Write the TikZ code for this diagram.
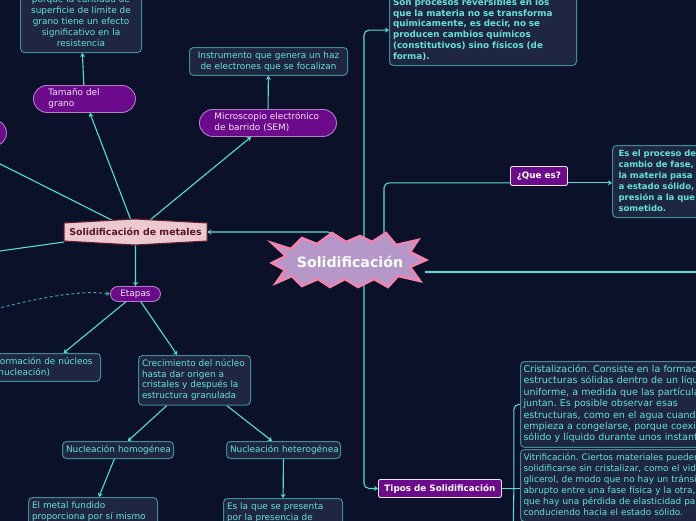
\documentclass[tikz,border=0pt]{standalone}
\usepackage{fontspec}
\setmainfont{DejaVu Sans}
\usetikzlibrary{arrows.meta,calc}
\frenchspacing
\pgfdeclarelayer{back}
\pgfdeclarelayer{lines}
\pgfsetlayers{back,lines,main}
\definecolor{cBg}{HTML}{0B1129}
\definecolor{cBoxFill}{HTML}{1E2641}
\definecolor{cBoxDraw}{HTML}{3D8E90}
\definecolor{cTeal}{HTML}{66E3D5}
\definecolor{cConn}{HTML}{52E0D0}
\definecolor{cDash}{HTML}{3A9FA5}
\definecolor{cPFill}{HTML}{6B0B8C}
\definecolor{cPDraw}{HTML}{B27CC6}
\definecolor{cPText}{HTML}{F2E4F2}
\definecolor{cSmFill}{HTML}{EACACE}
\definecolor{cSmDraw}{HTML}{6E1A2C}
\definecolor{cSmText}{HTML}{5A1428}
\definecolor{cStarFill}{HTML}{B597CA}
\definecolor{cStarDraw}{HTML}{F284AC}
\newcommand{\myL}[1]{\begin{tabular}{@{}l@{}}#1\end{tabular}}
\newcommand{\myC}[1]{\begin{tabular}{@{}c@{}}#1\end{tabular}}
\tikzset{
  tbox/.style={draw=cBoxDraw, fill=cBoxFill, line width=1pt, rounded corners=4pt,
    text=cTeal, font=\fontsize{8.9}{10.9}\selectfont, inner xsep=3.5pt, inner ysep=3pt,
    anchor=north west, align=left},
  tboxb/.style={tbox, font=\bfseries\fontsize{8.8}{10.8}\selectfont},
  pill/.style={draw=cPDraw, fill=cPFill, line width=0.9pt, text=cPText,
    font=\fontsize{8.9}{10.9}\selectfont, anchor=north west, inner ysep=0pt, align=left},
  pbox/.style={draw=white!80!cPDraw, fill=cPFill, line width=0.9pt, text=white, rounded corners=2pt,
    font=\bfseries\fontsize{8.8}{10.8}\selectfont, anchor=north west, inner sep=0pt, align=center},
  link/.style={draw=cConn, line width=1.1pt, -{Stealth[length=4pt,width=5pt]}},
  linkn/.style={draw=cConn, line width=1.1pt},
  dlink/.style={draw=cDash, line width=1pt, dash pattern=on 3pt off 2.5pt, -{Stealth[length=4pt,width=5pt]}}
}
\begin{document}
\begin{tikzpicture}[x=1pt,y=-1pt]
\useasboundingbox (0,0) rectangle (696,520);
\begin{pgfonlayer}{back}
\fill[cBg] (-20,-20) rectangle (716,540);
\end{pgfonlayer}

% central starburst
\filldraw[fill=cStarFill, draw=cStarDraw, line width=2.5pt, line join=miter]
 (272,243) -- (291,249) -- (302,238) -- (317,244) -- (332,233) -- (346,242) -- (360,236)
 -- (372,242) -- (386,233) -- (396,245) -- (418,240) -- (410,252) -- (426,260) -- (410,267)
 -- (420,281) -- (398,276) -- (388,287) -- (374,279) -- (358,287) -- (345,279) -- (330,287)
 -- (318,279) -- (302,286) -- (292,276) -- (276,283) -- (285,270) -- (272,263) -- (286,256) -- cycle;
\node[font=\bfseries\fontsize{14.2}{16}\selectfont, text=white, minimum width=150pt, minimum height=46pt, inner sep=0pt] (sol) at (350,262) {Solidificación};

% Solidificacion de metales
\filldraw[fill=cSmFill, draw=cSmDraw, line width=1pt]
 (64,223) -- (135,219) -- (207,223) -- (207,241) -- (135,245) -- (64,241) -- cycle;
\node[font=\bfseries\fontsize{9.4}{11}\selectfont, text=cSmText, minimum width=143pt, minimum height=22pt, inner sep=0pt] (smet) at (135.5,232) {Solidificación de metales};

% left branch
\node[tbox, anchor=south west, text width=114pt, align=center] (gs) at (20,53)
 {\myC{porque la cantidad de\\superficie de límite de\\grano tiene un efecto\\significativo en la\\resistencia}};
\node[pill, rounded corners=13.5pt, inner xsep=15pt, text width=72pt, minimum height=27pt] (tam) at (33,85) {\myL{Tamaño del\\grano}};
\node[pill, rounded corners=13.5pt, minimum width=136pt, minimum height=27pt] (lp) at (-130,119) {};
\node[tbox, text width=151pt, minimum height=27pt, align=center] (ins) at (189,47)
 {\myC{Instrumento que genera un haz\\de electrones que se focalizan}};
\node[pill, rounded corners=13.5pt, inner xsep=15pt, text width=107pt, minimum height=27pt] (mic) at (199,109) {\myL{Microscopio electrónico\\de barrido (SEM)}};
\node[pill, rounded corners=7.5pt, inner xsep=0pt, minimum width=50pt, minimum height=15pt, align=center] (etp) at (110,286) {Etapas};
\node[tbox, text width=102pt, minimum height=27pt] (for) at (-9,353) {\myL{Formación de núcleos\\(nucleación)}};
\node[tbox, text width=105pt, minimum height=49pt] (cre) at (138,355) {\myL{Crecimiento del núcleo\\hasta dar origen a\\cristales y después la\\estructura granulada}};
\node[tbox, text width=104pt, minimum height=17pt, align=center] (homo) at (62,441) {\myC{Nucleación homogénea}};
\node[tbox, text width=107pt, minimum height=17pt, align=center] (hete) at (226,441) {\myC{Nucleación heterogénea}};
\node[tbox, text width=122pt] (metal) at (28,497) {\myL{El metal fundido\\proporciona por sí mismo}};
\node[tbox, text width=112pt] (esla) at (223,498) {\myL{Es la que se presenta\\por la presencia de}};

% right branch
\node[tboxb, anchor=south west, text width=180pt] (proc) at (389,66)
 {\myL{Son procesos reversibles en los\\que la materia no se transforma\\quimicamente, es decir, no se\\producen cambios químicos\\(constitutivos) sino físicos (de\\forma).}};
\node[pbox, minimum width=57pt, minimum height=19pt] (que) at (510,166) {¿Que es?};
\node[tboxb, font=\bfseries\fontsize{8.5}{11}\selectfont, inner xsep=6pt, text width=200pt, minimum height=72pt] (es) at (612,145)
 {\myL{Es el proceso de\\cambio de fase,\\la materia pasa\\a estado sólido,\\presión a la que\\sometido.}};
\node[pbox, minimum width=123pt, minimum height=18pt] (tipos) at (378,479) {Tipos de Solidificación};
\node[tbox, font=\fontsize{9.5}{11.4}\selectfont, inner xsep=3pt, text width=260pt, minimum height=84pt] (cris) at (520,361)
 {\myL{Cristalización. Consiste en la formación de\\estructuras sólidas dentro de un líquido\\uniforme, a medida que las partículas se\\juntan. Es posible observar esas\\estructuras, como en el agua cuando\\empieza a congelarse, porque coexisten\\sólido y líquido durante unos instantes.}};
\node[tbox, font=\fontsize{8.9}{11}\selectfont, inner xsep=3pt, text width=260pt, minimum height=70pt] (vit) at (520,449)
 {\myL{Vitrificación. Ciertos materiales pueden\\solidificarse sin cristalizar, como el vidrio o el\\glicerol, de modo que no hay un tránsito\\abrupto entre una fase física y la otra, sino\\que hay una pérdida de elasticidad paulatina,\\conduciendo hacia el estado sólido.}};

\coordinate (l2) at (-100,265);
\coordinate (dsrc) at (-20,313);
\coordinate (rt) at (720,272);
\coordinate (tj) at ($(tipos.east)+(12,0)$);
\coordinate (tb) at (513,540);

\begin{pgfonlayer}{lines}
\draw[link] (smet) -- (tam);
\draw[link] (tam) -- (gs);
\draw[link] (smet) -- (mic);
\draw[link] (mic) -- (ins);
\draw[link] (smet) -- (lp);
\draw[link] (smet) -- (l2);
\draw[link] (smet) -- (etp);
\draw[dlink] (dsrc) .. controls (40,297) and (80,290) .. (etp.west);
\draw[link] (etp) -- (for);
\draw[link] (etp) -- (cre);
\draw[link] (cre) -- (homo);
\draw[link] (cre) -- (hete);
\draw[link] (homo) -- (metal);
\draw[link] (hete) -- (esla);
\draw[link, rounded corners=5pt] ([xshift=-17pt]sol.north) |- (smet.east);
\draw[link, rounded corners=5pt] ([xshift=14pt]sol.north) |- (proc.west);
\draw[link, rounded corners=5pt] ([xshift=14pt]sol.south) |- (tipos.west);
\draw[linkn, rounded corners=5pt] ([xshift=34pt]sol.north) |- ([yshift=3pt]que.south west);
\draw[link] ([yshift=3pt]que.south east) -- ([yshift=3pt]que.south east -| es.west);
\draw[linkn] ([yshift=-10pt]sol.east) -- (rt);
\draw[linkn] (tipos.east) -- (tipos.east -| vit.west);
\draw[linkn, rounded corners=5pt] (tj) |- (cris.west);
\draw[linkn] (tj) -- (tb);
\end{pgfonlayer}
\end{tikzpicture}
\end{document}
